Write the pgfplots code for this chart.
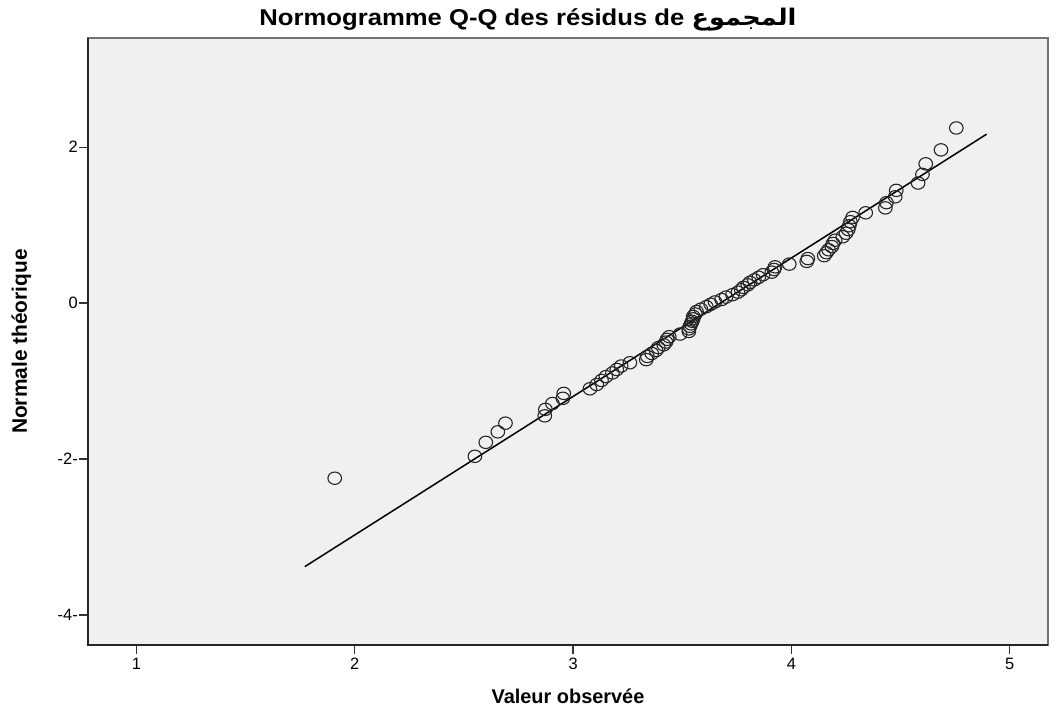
\documentclass[border=0pt]{standalone}
\usepackage{fontspec}
\setmainfont{Liberation Sans}
\newfontfamily\arabicfont[Script=Arabic]{DejaVu Sans}
\usepackage{pgfplots}
\usepackage{graphicx}
\pgfplotsset{compat=1.18}
\TeXXeTstate=1
\definecolor{plotbg}{HTML}{F0F0F0}
\begin{document}
\begin{tikzpicture}
\begin{axis}[
  scale only axis,
  width=960bp, height=607bp,
  xmin=0.778, xmax=5.175,
  ymin=-4.385, ymax=3.40,
  axis background/.style={fill=plotbg},
  axis line style={draw=black!55, line width=1.2bp},
  xtick={1,2,3,4,5},
  ytick={-4,-2,0,2},
  yticklabels={-4-,-2-,0,2},
  tick pos=left,
  tick align=outside,
  major tick length=9bp,
  tick style={black!80, line width=1.3bp},
  ticklabel style={font=\fontsize{16.5}{18}\selectfont},
  yticklabel style={inner xsep=1bp},
  xticklabel style={yshift=-1bp},
  /pgf/number format/assume math mode=true,
  xlabel={Valeur observée},
  ylabel={Normale théorique},
  xlabel style={font=\fontsize{20}{22}\selectfont\bfseries, yshift=-12bp},
  ylabel style={font=\fontsize{21}{23}\selectfont\bfseries, yshift=22bp},
  title={\scalebox{1.12}[1]{Normogramme Q-Q des résidus de {\arabicfont\beginR المجموع\endR}}},
  title style={font=\fontsize{23}{25}\selectfont\bfseries, yshift=-3bp, xshift=-40bp},
  clip=false
]
\draw[black!85, line width=1.5bp] (rel axis cs:0,1) -- (rel axis cs:0,0) -- (rel axis cs:1,0);
\addplot[black, line width=1.5bp, mark=none] coordinates {(1.771,-3.38) (4.894,2.167)};
\addplot[only marks, mark=o, mark size=6.2bp, mark options={black!85, line width=1.1bp, xscale=1.1}] coordinates {
(1.908,-2.246) (2.55,-1.965) (2.60,-1.786) (2.655,-1.651) (2.69,-1.540)
(2.87,-1.446) (2.873,-1.363) (2.905,-1.288) (2.953,-1.221) (2.957,-1.158)
(3.077,-1.099) (3.108,-1.044) (3.13,-0.992) (3.15,-0.943) (3.18,-0.896)
(3.20,-0.851) (3.22,-0.807) (3.26,-0.765) (3.335,-0.725) (3.34,-0.684)
(3.36,-0.646) (3.38,-0.608) (3.39,-0.571) (3.415,-0.535) (3.425,-0.500)
(3.43,-0.465) (3.44,-0.431) (3.49,-0.397) (3.53,-0.364) (3.53,-0.331)
(3.535,-0.298) (3.54,-0.266) (3.545,-0.234) (3.55,-0.202) (3.55,-0.171)
(3.56,-0.140) (3.565,-0.108) (3.585,-0.077) (3.61,-0.046) (3.63,-0.015)
(3.65,0.015) (3.68,0.046) (3.70,0.077) (3.73,0.108) (3.755,0.140)
(3.77,0.171) (3.78,0.202) (3.80,0.234) (3.81,0.266) (3.83,0.298)
(3.85,0.331) (3.87,0.364) (3.91,0.397) (3.92,0.431) (3.925,0.465)
(3.99,0.500) (4.07,0.535) (4.075,0.571) (4.15,0.608) (4.16,0.646)
(4.17,0.684) (4.185,0.725) (4.19,0.765) (4.20,0.807) (4.235,0.851)
(4.25,0.896) (4.26,0.943) (4.265,0.992) (4.27,1.044) (4.28,1.099)
(4.34,1.158) (4.43,1.221) (4.435,1.288) (4.475,1.363) (4.48,1.446)
(4.58,1.540) (4.60,1.651) (4.615,1.786) (4.685,1.965) (4.755,2.246)
};
\end{axis}
\pgfresetboundingbox
\path ([shift={(-88bp,-71bp)}]current axis.south west) rectangle ([shift={(6bp,38bp)}]current axis.north east);
\end{tikzpicture}
\end{document}
